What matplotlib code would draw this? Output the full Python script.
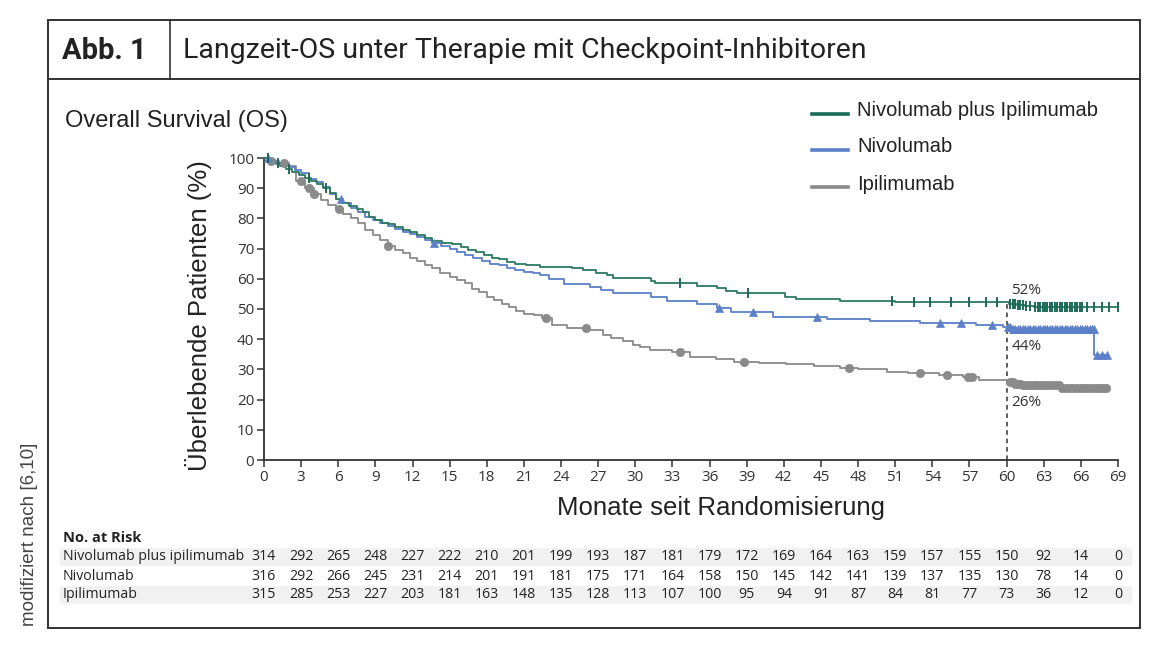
import numpy as np
import matplotlib
matplotlib.use("Agg")
import matplotlib.pyplot as plt
from matplotlib.patches import Rectangle
from matplotlib.lines import Line2D

# ---------------- data ----------------
months_ticks = list(range(0, 70, 3))
y_ticks = list(range(0, 101, 10))

green_t = [0, 0.4, 0.9, 1.3, 1.8, 2.3, 2.8, 3.3, 3.8, 4.3, 4.8, 5.3, 5.8, 6.3, 6.9, 7.5, 8.0, 8.5,
           9.0, 9.5, 10.1, 10.6, 11.2, 11.8, 12.4, 13.0, 13.6, 14.4, 15.2, 15.9, 16.5, 17.1, 17.8,
           18.4, 19.0, 19.6, 20.3, 21.2, 22.3, 24.9, 25.8, 26.8, 27.7, 28.2, 31.3, 31.6, 35.0,
           36.6, 37.3, 38.2, 42.1, 43.0, 46.5, 51.0, 60.2, 60.8, 61.5, 62.2]
green_s = [100, 99.5, 98.5, 97.5, 96.5, 95.5, 94.5, 93.5, 92.5, 91.5, 90.0, 88.5, 86.5, 85.0, 84.0,
           83.0, 82.0, 80.5, 79.5, 78.5, 78.0, 77.0, 76.0, 75.5, 74.5, 73.5, 72.5, 72.0, 71.5, 70.5,
           69.5, 69.0, 68.0, 67.0, 66.5, 65.7, 65.0, 64.5, 64.0, 63.5, 62.8, 62.0, 61.3, 60.2, 59.2,
           58.6, 57.7, 57.0, 56.0, 55.2, 54.0, 53.2, 52.8, 52.2, 51.8, 51.4, 51.0, 50.8]
green_end = 69.0
green_cens = [0.3, 1.1, 2.0, 3.6, 5.0, 33.6, 39.1, 50.7, 52.5, 53.8, 55.5, 57.0, 58.3, 59.2, 60.3,
              60.5, 60.7, 60.9, 61.1, 61.3, 61.6, 61.9, 62.3, 62.5, 62.7, 62.9, 63.1, 63.3, 63.5,
              63.7, 63.9, 64.1, 64.3, 64.5, 64.7, 64.9, 65.1, 65.3, 65.5, 65.7, 65.9, 66.1, 66.5,
              67.1, 67.7, 68.3, 69.0]

blue_t = [0, 0.5, 1.0, 1.5, 2.0, 2.5, 3.0, 3.6, 4.2, 4.8, 5.3, 5.8, 6.4, 7.0, 7.6, 8.2, 8.8, 9.4,
          10.0, 10.6, 11.2, 11.8, 12.4, 13.0, 13.6, 14.3, 15.0, 15.6, 16.2, 16.9, 17.6, 18.3, 19.0,
          19.6, 20.3, 21.0, 21.7, 22.3, 23.0, 24.2, 26.3, 27.2, 28.2, 31.3, 32.6, 35.0, 36.6, 37.7,
          41.1, 45.5, 49.0, 53.0, 57.5, 59.7, 60.5, 67.1]
blue_s = [100, 99, 98, 97.5, 97, 96, 95, 93, 92, 90.5, 88, 86.5, 85, 83.5, 82, 80.5, 79.5, 78.5,
          77.5, 76.5, 75.5, 75, 74, 73, 72, 71, 70, 69, 68, 67, 66, 65, 64.5, 63.6, 63, 62.3, 61.8,
          61.3, 60, 58.2, 57.4, 56.3, 55.4, 54, 52.6, 51.7, 50.2, 49.1, 47.5, 46.6, 46.1, 45.5,
          44.8, 44.2, 43.3, 34.8]
blue_end = 68.2
blue_cens = [0.3, 6.2, 13.7, 36.8, 39.5, 44.7, 54.6, 56.3, 58.8, 60.1, 60.3, 60.5, 60.7, 60.9,
             61.1, 61.3, 61.5, 61.7, 61.9, 62.1, 62.3, 62.5, 62.7, 62.9, 63.1, 63.3, 63.5, 63.7,
             63.9, 64.1, 64.3, 64.5, 64.7, 64.9, 65.1, 65.3, 65.5, 65.7, 65.9, 66.1, 66.3, 66.5,
             66.7, 66.9, 67.05, 67.3, 67.7, 68.1]

grey_t = [0, 0.5, 1.2, 2.0, 2.6, 3.3, 4.0, 4.6, 5.2, 5.8, 6.4, 7.0, 7.6, 8.2, 8.8, 9.4, 10.0, 10.6,
          11.2, 11.8, 12.4, 13.0, 13.6, 14.2, 15.0, 15.6, 16.2, 16.8, 17.4, 18.0, 18.6, 19.2, 19.8,
          20.4, 21.0, 21.8, 22.5, 23.3, 24.5, 26.3, 27.4, 28.0, 29.0, 29.8, 30.4, 31.2, 33.0, 34.4,
          36.5, 38.0, 40.0, 42.2, 44.4, 46.5, 48.0, 50.3, 52.0, 54.5, 56.5, 57.8, 60.3, 60.7, 61.3,
          62.2, 64.5]
grey_s = [100, 99, 98.5, 97.5, 92.5, 90, 88, 86, 84.5, 83, 81.5, 80, 78.5, 76, 74.5, 73, 71, 69.5,
          68.5, 67, 66, 64.5, 63.5, 62, 60.5, 59.5, 58.5, 56.5, 55.5, 54, 53, 51.5, 50.5, 49.5,
          48.5, 48, 47, 44.7, 43.8, 43, 41.4, 40.5, 39.5, 38, 37.5, 36.4, 35.8, 34.2, 33.3, 32.5,
          32, 31.8, 31.1, 30.5, 30.0, 29.3, 28.9, 28.3, 27.5, 26.5, 25.8, 25.3, 25.0, 24.8, 23.7]
grey_end = 68.0
grey_cens = [0.6, 1.6, 3.0, 3.6, 4.0, 6.1, 10.0, 22.8, 26.0, 33.6, 38.8, 47.3, 53.0, 55.2, 56.9,
             57.2, 60.3, 60.5, 60.7, 60.9, 61.1, 61.3, 61.5, 61.8, 62.1, 62.4, 62.7, 63.0, 63.3,
             63.6, 63.9, 64.2, 64.5, 64.8, 65.1, 65.4, 65.7, 66.0, 66.3, 66.6, 66.9, 67.2, 67.5,
             67.8, 68.0]

risk_labels = ["Nivolumab plus ipilimumab", "Nivolumab", "Ipilimumab"]
risk_nivo_ipi = [314, 292, 265, 248, 227, 222, 210, 201, 199, 193, 187, 181, 179, 172, 169, 164,
                 163, 159, 157, 155, 150, 92, 14, 0]
risk_nivo = [316, 292, 266, 245, 231, 214, 201, 191, 181, 175, 171, 164, 158, 150, 145, 142, 141,
             139, 137, 135, 130, 78, 14, 0]
risk_ipi = [315, 285, 253, 227, 203, 181, 163, 148, 135, 128, 113, 107, 100, 95, 94, 91, 87, 84,
            81, 77, 73, 36, 12, 0]

legend_labels = ["Nivolumab plus Ipilimumab", "Nivolumab", "Ipilimumab"]
pct_labels = ["52%", "44%", "26%"]

# ---------------- style ----------------
C_GREEN = "#2c7a5f"
C_GREEN_M = "#1e6a58"
C_BLUE = "#5b80c8"
C_GREY = "#8a8a8a"
C_TEXT = "#222222"
C_FRAME = "#333333"

W, H = 1160, 664
fig = plt.figure(figsize=(W / 100, H / 100), dpi=100)


def fx(x):
    return x / W


def fy(y):
    return 1 - y / H


# outer frame
fig.add_artist(Rectangle((fx(48), fy(628)), fx(1140) - fx(48), fy(20) - fy(628),
                         transform=fig.transFigure, fill=False, ec=C_FRAME, lw=1.4))
fig.add_artist(Line2D([fx(48), fx(1140)], [fy(79), fy(79)], transform=fig.transFigure,
                      color=C_FRAME, lw=1.4))
fig.add_artist(Line2D([fx(170), fx(170)], [fy(20), fy(79)], transform=fig.transFigure,
                      color=C_FRAME, lw=1.2))

fig.text(fx(62), fy(51), "Abb. 1", fontsize=21, fontweight="bold", family="Roboto",
         color=C_TEXT, va="center", ha="left")
fig.text(fx(183), fy(51), "Langzeit-OS unter Therapie mit Checkpoint-Inhibitoren", fontsize=20.5,
         family="Roboto", color=C_TEXT, va="center", ha="left")

fig.text(fx(65), fy(121), "Overall Survival (OS)", fontsize=17, family="Liberation Sans",
         color=C_TEXT, va="center", ha="left")

fig.text(fx(30), fy(534), "modifiziert nach [6,10]", fontsize=13.5, family="Liberation Sans",
         color="#444444", rotation=90, va="center", ha="center")

# legend
leg_colors = [C_GREEN_M, C_BLUE, C_GREY]
leg_y = [111, 147, 184]
for lab, col, yy in zip(legend_labels, leg_colors, leg_y):
    fig.add_artist(Line2D([fx(812), fx(848)], [fy(yy + 3), fy(yy + 3)],
                          transform=fig.transFigure, color=col, lw=2.6))
    fig.text(fx(857), fy(yy), lab, fontsize=14.5, family="Liberation Sans", color=C_TEXT,
             va="center", ha="left")

# ---------------- axes ----------------
ax = fig.add_axes([fx(264), fy(460), fx(1118) - fx(264), fy(158) - fy(460)])
ax.set_xlim(0, 69)
ax.set_ylim(0, 100)
for side in ["top", "right"]:
    ax.spines[side].set_visible(False)
for side in ["left", "bottom"]:
    ax.spines[side].set_color(C_FRAME)
    ax.spines[side].set_linewidth(1.3)
ax.set_xticks(months_ticks)
ax.set_yticks(y_ticks)
ax.tick_params(direction="out", length=5, width=1.1, color=C_FRAME, labelsize=11,
               labelcolor="#333333", pad=2)
for lab in ax.get_xticklabels() + ax.get_yticklabels():
    lab.set_family("Open Sans")

fig.text(fx(198), fy(316), "Überlebende Patienten (%)", fontsize=18.5, family="Liberation Sans",
         color=C_TEXT, rotation=90, va="center", ha="center")
fig.text(fx(721), fy(508), "Monate seit Randomisierung", fontsize=18.5, family="Liberation Sans",
         color=C_TEXT, va="center", ha="center")


def draw_curve(t, s, end, cens, col, mcol, marker, ms, mew):
    tt = list(t) + [end]
    ss = list(s) + [s[-1]]
    ax.step(tt, ss, where="post", color=col, lw=1.3, clip_on=False, zorder=3)
    idx = np.searchsorted(np.array(t), np.array(cens), side="right") - 1
    cy = np.array(s)[idx]
    ax.plot(cens, cy, ls="none", marker=marker, ms=ms, color=mcol, mew=mew, clip_on=False,
            zorder=4)


draw_curve(grey_t, grey_s, grey_end, grey_cens, C_GREY, C_GREY, "o", 6, 0.5)
draw_curve(blue_t, blue_s, blue_end, blue_cens, C_BLUE, C_BLUE, "^", 6, 0.5)
draw_curve(green_t, green_s, green_end, green_cens, C_GREEN, C_GREEN_M, "|", 6.5, 1.4)

# 60-month reference line
ax.plot([60, 60], [0, 52], ls=(0, (3, 2.5)), color="#333333", lw=1.1, zorder=2)
for lab, yv in zip(pct_labels, [56, 37.5, 19]):
    ax.text(60.4, yv, lab, fontsize=11, family="Open Sans", color="#333333", va="center",
            ha="left")

# ---------------- risk table ----------------
fig.text(fx(63), fy(538), "No. at Risk", fontsize=10.5, fontweight="bold", family="Open Sans",
         color=C_TEXT, va="center", ha="left")
row_y = [557, 576, 595]
for yy, shade in zip(row_y, [True, False, True]):
    if shade:
        fig.add_artist(Rectangle((fx(60), fy(yy + 9)), fx(1132) - fx(60), fy(yy - 9) - fy(yy + 9),
                                 transform=fig.transFigure, color="#f1f1f1", lw=0, zorder=0))
risk_rows = [risk_nivo_ipi, risk_nivo, risk_ipi]
for lab, vals, yy in zip(risk_labels, risk_rows, row_y):
    fig.text(fx(63), fy(yy), lab, fontsize=10.2, family="Open Sans", color=C_TEXT,
             va="center", ha="left")
    for m, v in zip(months_ticks, vals):
        xd = ax.transData.transform((m, 0))[0]
        xf = fig.transFigure.inverted().transform((xd, 0))[0]
        fig.text(xf, fy(yy), str(v), fontsize=10.2, family="Open Sans", color=C_TEXT,
                 va="center", ha="center")

fig.savefig("out.png", dpi=100)
